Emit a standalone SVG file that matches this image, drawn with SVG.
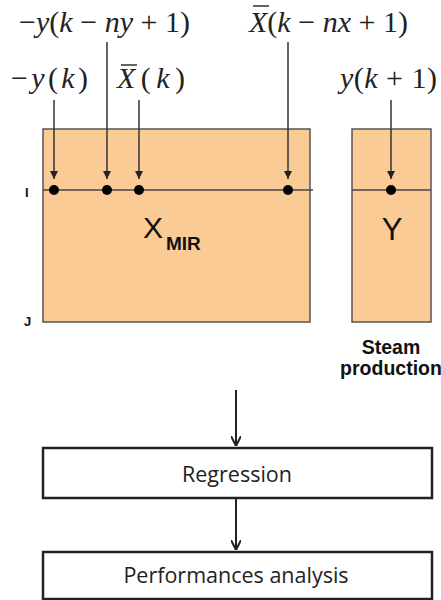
<svg xmlns="http://www.w3.org/2000/svg" width="441" height="600" viewBox="0 0 441 600">
<defs>
<style>
.mat{fill:#FBCB96;stroke:#555;stroke-width:1.5}
.row{stroke:#444;stroke-width:1.5;fill:none}
.dot{fill:#000}
.ln{stroke:#333;stroke-width:1.5;fill:none;marker-end:url(#ah)}
.ln2{stroke:#222;stroke-width:2;fill:none;marker-end:url(#ah2)}
.box{fill:#fff;stroke:#222;stroke-width:2.5}
.math{font-family:"Liberation Serif","Times New Roman",serif;font-size:30px;fill:#222}
.it{font-style:italic}
.bar{stroke:#222;stroke-width:1.4}
.lab{font-family:"Liberation Sans",Arial,sans-serif;fill:#111}
.btxt{font-family:"Open Sans","Liberation Sans",sans-serif;font-size:21.5px;fill:#222;text-anchor:middle}
</style>
<marker id="ah" markerWidth="8" markerHeight="8" viewBox="0 0 8 8" refX="8" refY="4" orient="auto" markerUnits="userSpaceOnUse">
<path d="M0,0 L8,4 L0,8 Z" fill="#222"/>
</marker>
<marker id="ah2" markerWidth="10" markerHeight="10" viewBox="0 0 10 10" refX="10" refY="5" orient="auto" markerUnits="userSpaceOnUse">
<path d="M0,0 L10,5 L0,10" fill="none" stroke="#222" stroke-width="2"/>
</marker>
</defs>
<rect width="441" height="600" fill="#fff"/>

<g id="xmir">
<rect class="mat" x="43" y="129" width="267" height="193"/>
<line class="row" x1="43" y1="190" x2="313" y2="190"/>
<circle class="dot" cx="54" cy="190" r="5"/>
<circle class="dot" cx="107" cy="190" r="5"/>
<circle class="dot" cx="139" cy="190" r="5"/>
<circle class="dot" cx="288" cy="190" r="5"/>
<text class="lab" x="143" y="238" font-size="30">X</text>
<text class="lab" x="166" y="250" font-size="19" font-weight="bold">MIR</text>
<text class="lab" x="25" y="197" font-size="13" font-weight="bold">I</text>
<text class="lab" x="24" y="326" font-size="13" font-weight="bold">J</text>
</g>

<g id="y">
<rect class="mat" x="352" y="129" width="79" height="193"/>
<line class="row" x1="352" y1="190" x2="431" y2="190"/>
<circle class="dot" cx="391" cy="190" r="5"/>
<text class="lab" x="392" y="240" font-size="31" text-anchor="middle">Y</text>
<text class="lab" x="391" y="354" font-size="19.5" font-weight="bold" text-anchor="middle">Steam</text>
<text class="lab" x="391" y="375" font-size="19.5" font-weight="bold" text-anchor="middle">production</text>
</g>

<g id="labels">
<text class="math" x="19" y="32" textLength="171" lengthAdjust="spacing">−<tspan class="it">y</tspan>(<tspan class="it">k</tspan> − <tspan class="it">ny</tspan> + 1)</text>
<text class="math" x="249" y="32" textLength="159" lengthAdjust="spacing"><tspan class="it">X</tspan>(<tspan class="it">k</tspan> − <tspan class="it">nx</tspan> + 1)</text>
<line class="bar" x1="253" y1="6" x2="269" y2="6"/>
<text class="math" x="11" y="88" textLength="77" lengthAdjust="spacing">−<tspan class="it">y</tspan>(<tspan class="it">k</tspan>)</text>
<text class="math" x="117" y="88" textLength="68" lengthAdjust="spacing"><tspan class="it">X</tspan>(<tspan class="it">k</tspan>)</text>
<line class="bar" x1="121" y1="65" x2="137" y2="65"/>
<text class="math" x="340" y="88" textLength="97" lengthAdjust="spacing"><tspan class="it">y</tspan>(<tspan class="it">k</tspan> + 1)</text>
</g>

<g id="regression">
<rect class="box" x="43" y="448" width="389" height="50"/>
<text class="btxt" x="237" y="482">Regression</text>
</g>

<g id="performances">
<rect class="box" x="43" y="552" width="389" height="47"/>
<text class="btxt" x="236" y="583">Performances analysis</text>
</g>

<g id="connectors">
<line class="ln" x1="54" y1="100" x2="54" y2="179"/>
<line class="ln" x1="107" y1="42" x2="107" y2="179"/>
<line class="ln" x1="139" y1="100" x2="139" y2="179"/>
<line class="ln" x1="288" y1="42" x2="288" y2="179"/>
<line class="ln" x1="391" y1="100" x2="391" y2="179"/>
<line class="ln2" x1="236" y1="390" x2="236" y2="446"/>
<line class="ln2" x1="236" y1="499" x2="236" y2="550"/>
</g>
</svg>
